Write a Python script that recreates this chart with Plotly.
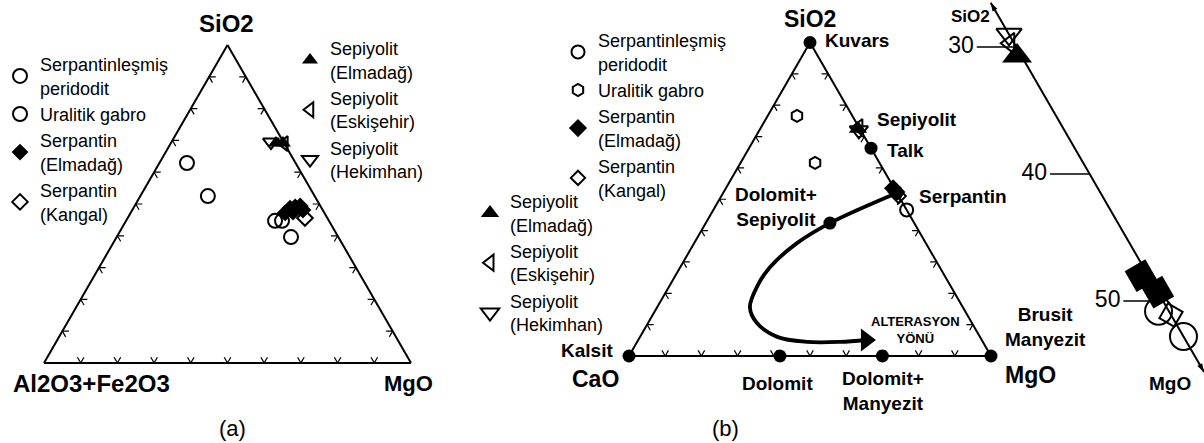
import plotly.graph_objects as go

W, H = 1204, 443
EDGE_TICKS = [10, 20, 30, 40, 50, 60, 70, 80, 90]

# ---------------- (a) SiO2 / Al2O3+Fe2O3 / MgO  (%) ----------------
a_perid_sio2 = [44.7, 44.7, 39.6]
a_perid_alfe = [14.7, 12.8, 12.9]
a_perid_mgo = [40.6, 42.5, 47.5]

a_gabro_sio2 = [62.9, 52.5]
a_gabro_alfe = [29.6, 29.1]
a_gabro_mgo = [7.5, 18.4]

a_serpE_sio2 = [47.2, 48.7, 49.1, 49.4, 48.1, 47.5]
a_serpE_alfe = [10.7, 8.6, 7.0, 5.5, 5.4, 8.4]
a_serpE_mgo = [42.1, 42.7, 43.9, 45.1, 46.5, 44.1]

a_serpK_sio2 = [45.6]
a_serpK_alfe = [6.1]
a_serpK_mgo = [48.3]

a_sepE_sio2 = [69.2, 69.2]
a_sepE_alfe = [2.2, 0.3]
a_sepE_mgo = [28.6, 30.5]

a_sepS_sio2 = [69.0]
a_sepS_alfe = [0.0]
a_sepS_mgo = [31.0]

a_sepH_sio2 = [69.5]
a_sepH_alfe = [3.4]
a_sepH_mgo = [27.1]

# ---------------- (b) SiO2 / CaO / MgO  (%) ----------------
b_perid_sio2 = [46.6]
b_perid_cao = [0.0]
b_perid_mgo = [53.4]

b_gabro_sio2 = [76.6, 61.6]
b_gabro_cao = [15.3, 17.8]
b_gabro_mgo = [8.1, 20.6]

b_serpE_sio2 = [53.5, 52.3]
b_serpE_cao = [0.3, 0.0]
b_serpE_mgo = [46.2, 47.7]

b_serpK_sio2 = [51.0]
b_serpK_cao = [0.0]
b_serpK_mgo = [49.0]

b_sepE_sio2 = [72.5]
b_sepE_cao = [0.5]
b_sepE_mgo = [27.0]

b_sepS_sio2 = [73.0]
b_sepS_cao = [0.0]
b_sepS_mgo = [27.0]

b_sepH_sio2 = [72.0]
b_sepH_cao = [0.5]
b_sepH_mgo = [27.5]

mineral_names = ["Kuvars", "Talk", "Serpantin", "Dolomit+Sepiyolit", "Kalsit",
                 "Dolomit", "Dolomit+Manyezit", "Brusit/Manyezit"]
mineral_sio2 = [100, 66.3, 52.0, 42.4, 0, 0, 0, 0]
mineral_cao = [0, 0, 0, 23.3, 100, 58.3, 30.0, 0]
mineral_mgo = [0, 33.7, 48.0, 34.3, 0, 41.7, 70.0, 100]

# alteration path (Serpantin -> Dolomit+Sepiyolit -> ... -> arrow)
path_sio2 = [52.0, 42.4, 36.0, 28.4, 22.0, 15.6, 10.5, 6.1, 4.5, 4.5, 5.1]
path_cao = [0.0, 23.3, 35.6, 46.8, 52.2, 58.8, 59.4, 56.0, 48.6, 39.4, 32.0]
path_mgo = [48.0, 34.3, 28.4, 24.8, 23.8, 25.6, 30.1, 37.9, 46.9, 56.1, 62.9]

# ---------------- (c) enlarged SiO2-MgO edge of (a) ----------------
c_range = [26.5, 55.6]          # MgO span shown on the enlarged edge
c_ticks = [30, 40, 50]

c_sepE = ([69.3], [0.3], [30.4])
c_sepS = ([70.3], [0.3], [29.4])
c_sepH = ([71.0], [0.0], [29.0])
c_serpE = ([52.0, 50.7], [0.5, 0.0], [47.5, 49.3])
c_perid = ([49.2, 47.2], [0.7, 0.0], [50.1, 52.8])
c_serpK = ([48.9], [0.0], [51.1])

FONT = "Liberation Sans, Arial, sans-serif"


def pts(name, a, b, c, sub, symbol, size, legend=None, **marker_kw):
    is_open = symbol.endswith("open")
    return go.Scatterternary(
        a=a, b=b, c=c, subplot=sub, name=name, mode="markers",
        legend=legend or "legend", showlegend=legend is not None,
        cliponaxis=False,
        marker=dict(symbol=symbol, size=size, color="black",
                    line=dict(width=2 if is_open else 0, color="black"), **marker_kw),
    )


def edge_ticks(sub, d=1.8):
    # two short inward strokes (along both grid directions) at every tick of each edge
    ta, tb, tc = [], [], []

    def seg(p, q):
        ta.extend([p[0], q[0], None])
        tb.extend([p[1], q[1], None])
        tc.extend([p[2], q[2], None])

    for t in EDGE_TICKS:
        left = (t, 100 - t, 0)
        seg(left, (t, 100 - t - d, d))
        seg(left, (t - d, 100 - t, d))
        bottom = (0, 100 - t, t)
        seg(bottom, (d, 100 - t, t - d))
        seg(bottom, (d, 100 - t - d, t))
        right = (100 - t, 0, t)
        seg(right, (100 - t, d, t - d))
        seg(right, (100 - t - d, d, t))
    return go.Scatterternary(a=ta, b=tb, c=tc, subplot=sub, mode="lines",
                             line=dict(color="black", width=1.2), showlegend=False,
                             hoverinfo="skip", cliponaxis=False)


fig = go.Figure()

# panel (a)
fig.add_trace(edge_ticks("ternary"))
fig.add_trace(pts("Serpantinleşmiş<br>peridodit", a_perid_sio2, a_perid_alfe, a_perid_mgo,
                  "ternary", "circle-open", 14, "legend"))
fig.add_trace(pts("Uralitik gabro", a_gabro_sio2, a_gabro_alfe, a_gabro_mgo,
                  "ternary", "circle-open", 14, "legend"))
fig.add_trace(pts("Serpantin<br>(Elmadağ)", a_serpE_sio2, a_serpE_alfe, a_serpE_mgo,
                  "ternary", "diamond", 13, "legend"))
fig.add_trace(pts("Serpantin<br>(Kangal)", a_serpK_sio2, a_serpK_alfe, a_serpK_mgo,
                  "ternary", "diamond-open", 12, "legend"))
fig.add_trace(pts("Sepiyolit<br>(Elmadağ)", a_sepE_sio2, a_sepE_alfe, a_sepE_mgo,
                  "ternary", "triangle-up", 14, "legend2"))
fig.add_trace(pts("Sepiyolit<br>(Eskişehir)", a_sepS_sio2, a_sepS_alfe, a_sepS_mgo,
                  "ternary", "triangle-left-open", 13, "legend2"))
fig.add_trace(pts("Sepiyolit<br>(Hekimhan)", a_sepH_sio2, a_sepH_alfe, a_sepH_mgo,
                  "ternary", "triangle-down-open", 14, "legend2"))

# panel (b)
fig.add_trace(edge_ticks("ternary2"))
fig.add_trace(go.Scatterternary(
    a=path_sio2, b=path_cao, c=path_mgo, subplot="ternary2", mode="lines",
    line=dict(color="black", width=3.8, shape="spline", smoothing=1),
    showlegend=False, cliponaxis=False, hoverinfo="skip"))
fig.add_trace(go.Scatterternary(
    a=path_sio2[-1:], b=path_cao[-1:], c=path_mgo[-1:], subplot="ternary2",
    mode="markers", marker=dict(symbol="triangle-right", size=20, color="black"),
    showlegend=False, cliponaxis=False, hoverinfo="skip"))
fig.add_trace(pts("Serpantinleşmiş<br>peridodit", b_perid_sio2, b_perid_cao, b_perid_mgo,
                  "ternary2", "circle-open", 13, "legend3"))
fig.add_trace(pts("Uralitik gabro", b_gabro_sio2, b_gabro_cao, b_gabro_mgo,
                  "ternary2", "hexagon-open", 12, "legend3"))
fig.add_trace(pts("Serpantin<br>(Elmadağ)", b_serpE_sio2, b_serpE_cao, b_serpE_mgo,
                  "ternary2", "diamond", 14, "legend3"))
fig.add_trace(pts("Serpantin<br>(Kangal)", b_serpK_sio2, b_serpK_cao, b_serpK_mgo,
                  "ternary2", "diamond-open", 11, "legend3"))
fig.add_trace(pts("Sepiyolit<br>(Elmadağ)", b_sepE_sio2, b_sepE_cao, b_sepE_mgo,
                  "ternary2", "triangle-up", 16, "legend4"))
fig.add_trace(pts("Sepiyolit<br>(Eskişehir)", b_sepS_sio2, b_sepS_cao, b_sepS_mgo,
                  "ternary2", "triangle-left-open", 14, "legend4"))
fig.add_trace(pts("Sepiyolit<br>(Hekimhan)", b_sepH_sio2, b_sepH_cao, b_sepH_mgo,
                  "ternary2", "triangle-down-open", 16, "legend4"))
fig.add_trace(go.Scatterternary(
    a=mineral_sio2, b=mineral_cao, c=mineral_mgo, text=mineral_names, subplot="ternary2",
    mode="markers", marker=dict(symbol="circle", size=13, color="black"),
    showlegend=False, cliponaxis=False))

# panel (c)
lead = 2.7
lead_a, lead_b, lead_c = [], [], []
for t in c_ticks:
    lead_a += [100 - t, 100 - t, None]
    lead_b += [0, lead, None]
    lead_c += [t, t - lead, None]
fig.add_trace(go.Scatterternary(
    a=lead_a, b=lead_b, c=lead_c, subplot="ternary3", mode="lines",
    line=dict(color="black", width=1.5), showlegend=False, cliponaxis=False))
fig.add_trace(go.Scatterternary(
    a=[100 - t for t in c_ticks], b=[lead + 0.2] * len(c_ticks),
    c=[t - lead - 0.2 for t in c_ticks], text=[str(t) for t in c_ticks],
    subplot="ternary3", mode="text", textposition="middle left",
    textfont=dict(family=FONT, size=23, color="black"),
    showlegend=False, cliponaxis=False))
fig.add_trace(go.Scatterternary(
    a=[100 - c_range[0], 100 - c_range[1]], b=[0, 0], c=c_range, subplot="ternary3",
    mode="markers", marker=dict(symbol="arrow", size=9, color="black", angle=[-30, 150]),
    showlegend=False, cliponaxis=False))
fig.add_trace(pts("", *c_serpE, "ternary3", "diamond", 26, angle=15))
fig.add_trace(pts("", *c_perid, "ternary3", "circle-open", 27))
fig.add_trace(pts("", *c_serpK, "ternary3", "square-open", 17, angle=30))
fig.add_trace(pts("", *c_sepS, "ternary3", "triangle-left-open", 18))
fig.add_trace(pts("", *c_sepH, "ternary3", "triangle-down-open", 22))
fig.add_trace(pts("", *c_sepE, "ternary3", "triangle-up", 26))


def dom(x0, x1, y0, y1):
    return dict(x=[x0 / W, x1 / W], y=[1 - y1 / H, 1 - y0 / H])


edge = dict(showline=True, linecolor="black", linewidth=2, ticks="",
            showticklabels=False, showgrid=False, title=dict(text=""))
hidden = dict(showline=False, ticks="", showticklabels=False, showgrid=False,
              title=dict(text=""))

fig.update_layout(
    width=W, height=H, margin=dict(l=0, r=0, t=0, b=0),
    paper_bgcolor="white", font=dict(family=FONT, color="black"),
    ternary=dict(sum=100, domain=dom(44, 411, 45, 363), bgcolor="rgba(0,0,0,0)",
                 aaxis=edge, baxis=edge, caxis=edge),
    ternary2=dict(sum=100, domain=dom(629, 991, 42.5, 356), bgcolor="rgba(0,0,0,0)",
                  aaxis=edge, baxis=edge, caxis=edge),
    ternary3=dict(sum=100, domain=dom(777.4, 1204, 2.6, 372.1), bgcolor="rgba(0,0,0,0)",
                  aaxis=dict(min=100 - c_range[1], **hidden),
                  baxis=dict(min=0, **hidden),
                  caxis=dict(min=c_range[0], showline=True, linecolor="black", linewidth=2,
                             ticks="", showticklabels=False, showgrid=False,
                             title=dict(text=""))),
)

leg = dict(font=dict(family=FONT, size=18, color="black"), bgcolor="rgba(0,0,0,0)",
           yanchor="top", xanchor="left", tracegroupgap=0)
fig.update_layout(
    legend=dict(x=0, y=1 - 46 / H, **leg),
    legend2=dict(x=290 / W, y=1 - 30 / H, **leg),
    legend3=dict(x=558 / W, y=1 - 22 / H, **leg),
    legend4=dict(x=470 / W, y=1 - 183 / H, **leg),
)


def label(text, x, y, size=19, bold=True, xanchor="center"):
    fig.add_annotation(
        text=f"<b>{text}</b>" if bold else text, x=x / W, y=1 - y / H,
        xref="paper", yref="paper", xanchor=xanchor, yanchor="middle",
        showarrow=False, font=dict(family=FONT, size=size, color="black"))


# panel (a)
label("SiO2", 226, 23, 24)
label("Al2O3+Fe2O3", 91, 383, 24)
label("MgO", 408, 383, 22)
label("(a)", 232, 428, 22, bold=False)
# panel (b)
label("SiO2", 810, 19, 23)
label("CaO", 595, 379, 23)
label("MgO", 1030, 375, 23)
label("(b)", 725, 428, 22, bold=False)
label("Kuvars", 823, 41, xanchor="left")
label("Sepiyolit", 875, 119, xanchor="left")
label("Talk", 885, 150, xanchor="left")
label("Serpantin", 917, 196, xanchor="left")
label("Dolomit+<br>Sepiyolit", 733, 207, xanchor="left")
label("Kalsit", 615, 350, xanchor="right")
label("Dolomit", 777, 383)
label("Dolomit+<br>Manyezit", 840, 391, xanchor="left")
label("Brusit<br>Manyezit", 1003, 327, xanchor="left")
label("ALTERASYON<br>YÖNÜ", 915, 330, 13)
# panel (c)
label("SiO2", 992, 16, 17, xanchor="right")
label("MgO", 1170, 383, 19)

# the page body has a default 8px margin; drop it so the figure fills the window
fig.write_html("out.html", config={"displayModeBar": False},
               post_script="document.body.style.margin='0px';")
